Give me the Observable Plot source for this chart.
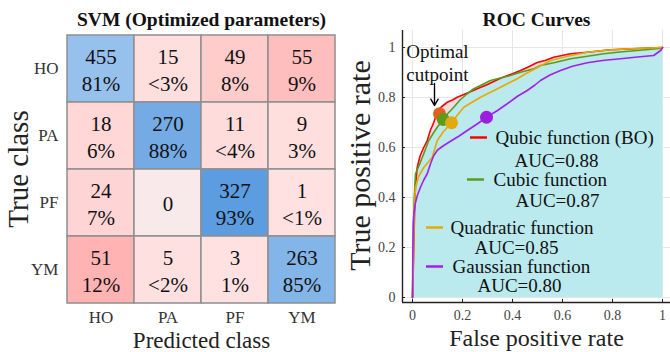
<!DOCTYPE html>
<html><head><meta charset="utf-8">
<script src="https://cdn.jsdelivr.net/npm/d3@7"></script>
<script src="https://cdn.jsdelivr.net/npm/@observablehq/plot@0.6"></script>
<style>
body{margin:0;background:#fff;}
#wrap{position:relative;width:670px;height:352px;overflow:hidden;}
#left{position:absolute;left:0;top:0;}
#right{position:absolute;left:340px;top:0;}
</style></head><body><div id="wrap"><div id="left"></div><div id="right"></div></div>
<script>
// ---------- Confusion matrix data ----------
const classes = ["HO", "PA", "PF", "YM"];
const counts = [
  [455, 15, 49, 55],
  [18, 270, 11, 9],
  [24, 0, 327, 1],
  [51, 5, 3, 263]
];
const percents = [
  [81, 3, 8, 9],
  [6, 88, 4, 3],
  [7, 0, 93, 1],
  [12, 2, 1, 85]
];
const percentLabels = [
  ["81%", "<3%", "8%", "9%"],
  ["6%", "88%", "<4%", "3%"],
  ["7%", "", "93%", "<1%"],
  ["12%", "<2%", "1%", "85%"]
];

// ---------- ROC data ----------
const seriesNames = ["Qubic function (BO)", "Cubic function", "Quadratic function", "Gaussian function"];
const aucValues = [0.88, 0.87, 0.85, 0.80];
const fprQubic = [0, 0.004, 0.008, 0.012, 0.019, 0.03, 0.045, 0.059, 0.072, 0.085, 0.099, 0.115, 0.139, 0.16, 0.179, 0.22, 0.259, 0.30, 0.352, 0.40, 0.432, 0.459, 0.499, 0.53, 0.565, 0.632, 0.699, 0.792, 0.88, 0.992, 1];
const tprQubic = [0, 0.15, 0.33, 0.45, 0.521, 0.565, 0.60, 0.628, 0.67, 0.70, 0.741, 0.762, 0.781, 0.79, 0.801, 0.818, 0.835, 0.852, 0.877, 0.895, 0.908, 0.92, 0.94, 0.948, 0.961, 0.975, 0.981, 0.991, 0.995, 1.0, 1.0];
const fprCubic = [0, 0.003, 0.006, 0.012, 0.025, 0.045, 0.065, 0.085, 0.099, 0.123, 0.14, 0.165, 0.19, 0.219, 0.245, 0.272, 0.312, 0.352, 0.392, 0.432, 0.485, 0.512, 0.57, 0.632, 0.70, 0.765, 0.83, 0.899, 0.999, 1];
const tprCubic = [0, 0.2, 0.38, 0.495, 0.525, 0.575, 0.628, 0.66, 0.681, 0.712, 0.735, 0.761, 0.79, 0.815, 0.835, 0.848, 0.868, 0.878, 0.888, 0.901, 0.915, 0.928, 0.94, 0.955, 0.965, 0.975, 0.982, 0.988, 0.997, 1];
const fprQuadratic = [0, 0.002, 0.004, 0.006, 0.012, 0.025, 0.045, 0.062, 0.079, 0.099, 0.125, 0.156, 0.18, 0.205, 0.24, 0.272, 0.31, 0.352, 0.385, 0.419, 0.452, 0.485, 0.552, 0.62, 0.699, 0.78, 0.872, 0.95, 1];
const tprQuadratic = [0, 0.07, 0.2, 0.335, 0.441, 0.485, 0.52, 0.54, 0.561, 0.628, 0.665, 0.699, 0.73, 0.761, 0.782, 0.801, 0.82, 0.841, 0.858, 0.875, 0.895, 0.912, 0.948, 0.965, 0.981, 0.99, 0.995, 0.998, 1];
const fprGaussian = [0, 0.001, 0.003, 0.006, 0.012, 0.02, 0.032, 0.045, 0.059, 0.072, 0.085, 0.1, 0.125, 0.152, 0.185, 0.219, 0.26, 0.296, 0.34, 0.379, 0.42, 0.459, 0.49, 0.512, 0.55, 0.592, 0.64, 0.699, 0.76, 0.832, 0.9, 0.965, 0.995, 1];
const tprGaussian = [0, 0.15, 0.296, 0.34, 0.38, 0.41, 0.441, 0.47, 0.495, 0.535, 0.568, 0.59, 0.608, 0.625, 0.645, 0.668, 0.695, 0.721, 0.748, 0.775, 0.805, 0.828, 0.85, 0.868, 0.89, 0.908, 0.925, 0.939, 0.948, 0.955, 0.962, 0.968, 0.99, 1];
const optimalFpr = [0.108, 0.123, 0.156, 0.296];
const optimalTpr = [0.735, 0.712, 0.699, 0.721];
const axisTicks = [0, 0.2, 0.4, 0.6, 0.8, 1];

// ---------- styles ----------
const FONT = "Liberation Serif";
const lineColors = ["#ff0000", "#5c9b1c", "#e6aa00", "#a020ee"];
const dotColors = ["#e2601f", "#5c9b1c", "#e2aa10", "#9c1fe0"];

// ---------- left panel ----------
const cells = [];
classes.forEach((t, i) => classes.forEach((p, j) => cells.push({
  trueClass: t, predClass: p, count: counts[i][j], pct: percents[i][j],
  label: percentLabels[i][j] ? `${counts[i][j]}\n${percentLabels[i][j]}` : `${counts[i][j]}`,
  diag: i === j
})));
const blue = d3.scaleLinear().domain([80, 93]).range(["#9cc4ee", "#5c9ce0"]).clamp(true);
const red = d3.scaleLinear().domain([0, 1, 3, 7, 8, 9, 12]).range(["#f8eaea", "#ffe1e1", "#ffdede", "#ffd4d4", "#ffcccc", "#ffbebe", "#ffb3b3"]).clamp(true);

const left = Plot.plot({
  width: 340, height: 352,
  marginLeft: 67, marginRight: 5, marginTop: 34, marginBottom: 49,
  style: {fontFamily: FONT, fontSize: "17px", color: "#333", background: "transparent", overflow: "visible"},
  x: {domain: classes, padding: 0, tickSize: 0, tickPadding: 7, label: null},
  y: {domain: classes, padding: 0, tickSize: 0, tickPadding: 9, label: null},
  marks: [
    Plot.cell(cells, {x: "predClass", y: "trueClass", fill: d => d.diag ? blue(d.pct) : red(d.pct), stroke: "#8e8e8e", strokeWidth: 1.5}),
    Plot.text(cells, {x: "predClass", y: "trueClass", text: "label", fontSize: 21, lineHeight: 1.25, fill: "#111"}),
    Plot.text(["SVM (Optimized parameters)"], {text: d => d, frameAnchor: "top", lineAnchor: "middle", dy: -15, fontWeight: "bold", fontSize: 19.5, fill: "#111"}),
    Plot.text(["True class"], {text: d => d, frameAnchor: "left", textAnchor: "middle", lineAnchor: "middle", rotate: -90, dx: -49, fontSize: 29, fill: "#222"}),
    Plot.text(["Predicted class"], {text: d => d, frameAnchor: "bottom", lineAnchor: "middle", dy: 37, fontSize: 23, fill: "#222"})
  ]
});
document.getElementById("left").append(left);

// ---------- right panel ----------
const toRows = (f, t) => f.map((x, i) => ({fpr: x, tpr: t[i]}));
const curves = [toRows(fprQubic, tprQubic), toRows(fprCubic, tprCubic), toRows(fprQuadratic, tprQuadratic), toRows(fprGaussian, tprGaussian)];
const optimal = optimalFpr.map((x, i) => ({fpr: x, tpr: optimalTpr[i], k: i}));

// legend layout (data units of the ROC frame)
const legendLayout = [
  {x1: 0.232, x2: 0.30, y: 0.64, tx: 0.332, ax: 0.576, ay: 0.548},
  {x1: 0.22, x2: 0.288, y: 0.472, tx: 0.324, ax: 0.58, ay: 0.388},
  {x1: 0.056, x2: 0.124, y: 0.28, tx: 0.152, ax: 0.416, ay: 0.20},
  {x1: 0.056, x2: 0.124, y: 0.124, tx: 0.16, ax: 0.428, ay: 0.046}
];
const legend = legendLayout.map((l, i) => ({...l, name: seriesNames[i], auc: `AUC=${aucValues[i].toFixed(2)}`, k: i}));

const right = Plot.plot({
  width: 330, height: 352,
  marginLeft: 62, marginRight: 0, marginTop: 30, marginBottom: 50,
  style: {fontFamily: FONT, fontSize: "14px", color: "#444", background: "transparent", overflow: "visible"},
  x: {domain: [-0.04, 1.032], ticks: axisTicks, tickFormat: d => String(d), tickSize: 0, tickPadding: 8, label: null},
  y: {domain: [-0.02, 1.068], ticks: axisTicks, tickFormat: d => String(d), tickSize: 0, tickPadding: 7, label: null},
  marks: [
    Plot.ruleX(axisTicks, {stroke: "#e6e6e6", strokeWidth: 1}),
    Plot.ruleY(axisTicks, {stroke: "#e6e6e6", strokeWidth: 1}),
    Plot.areaY(curves[0], {x: "fpr", y: "tpr", fill: "#f2dce4"}),
    Plot.areaY(curves[1], {x: "fpr", y: "tpr", fill: "#bae9ee"}),
    Plot.areaY(curves[2], {x: "fpr", y: "tpr", fill: "#bae9ee"}),
    ...curves.map((c, i) => Plot.line(c, {x: "fpr", y: "tpr", stroke: lineColors[i], strokeWidth: 1.6})),
    Plot.dot(optimal, {x: "fpr", y: "tpr", r: 6.5, fill: d => dotColors[d.k], stroke: "none"}),
    Plot.arrow([{x: 0.088, y1: 0.856, y2: 0.768}], {x1: "x", x2: "x", y1: "y1", y2: "y2", stroke: "#000", strokeWidth: 1.4, headLength: 9}),
    Plot.text(["Optimal\ncutpoint"], {text: d => d, x: 0.1, y: 0.94, lineHeight: 1.2, fontSize: 19, fill: "#111"}),
    Plot.ruleY(legend, {x1: "x1", x2: "x2", y: "y", stroke: d => lineColors[d.k], strokeWidth: 2.5}),
    Plot.text(legend, {x: "tx", y: "y", text: "name", textAnchor: "start", fontSize: 19, fill: "#111"}),
    Plot.text(legend, {x: "ax", y: "ay", text: "auc", fontSize: 19, fill: "#111"}),
    Plot.ruleX([-0.04], {stroke: "#222", strokeWidth: 1.4}),
    Plot.ruleY([-0.02], {stroke: "#222", strokeWidth: 1.4}),
    Plot.ruleX(axisTicks, {x: d => d, y1: -0.02, y2: -0.008, stroke: "#222"}),
    Plot.ruleY(axisTicks, {y: d => d, x1: -0.04, x2: -0.028, stroke: "#222"}),
    Plot.text(["ROC Curves"], {text: d => d, frameAnchor: "top", lineAnchor: "middle", dy: -11, fontWeight: "bold", fontSize: 19.5, fill: "#111"}),
    Plot.text(["True positive rate"], {text: d => d, frameAnchor: "left", textAnchor: "middle", lineAnchor: "middle", rotate: -90, dy: -1, dx: -42, fontSize: 30, fill: "#222"}),
    Plot.text(["False positive rate"], {text: d => d, frameAnchor: "bottom", lineAnchor: "middle", dy: 36, fontSize: 24, fill: "#222"})
  ]
});
document.getElementById("right").append(right);
</script></body></html>
